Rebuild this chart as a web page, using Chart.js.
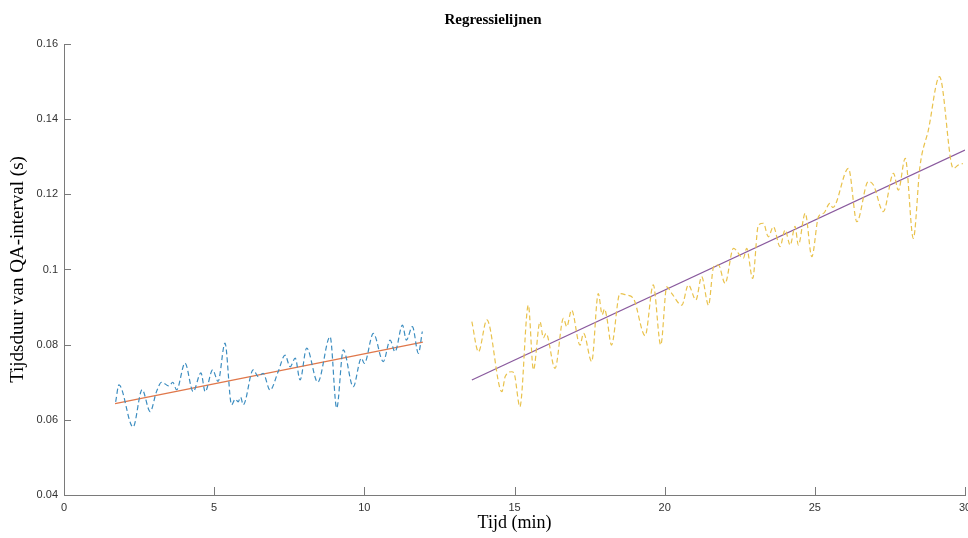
<!DOCTYPE html>
<html>
<head>
<meta charset="utf-8">
<script src="https://cdn.jsdelivr.net/npm/chart.js@4.4.0/dist/chart.umd.min.js"></script>
<style>
  html, body { margin: 0; padding: 0; background: #fff; overflow: hidden; }
  #wrap { width: 985px; height: 538px; position: relative; }
</style>
</head>
<body>
<div id="wrap"><canvas id="chart"></canvas></div>
<script>
// first segment (blue, dashed)
const blueX = [1.72, 1.83, 2.30, 2.60, 2.87, 3.08, 3.25, 3.50, 3.62, 3.75, 4.03, 4.30, 4.56, 4.70, 4.95, 5.13, 5.36, 5.58, 5.70, 5.80, 5.88, 5.97, 6.30, 6.47, 6.63, 6.86, 7.13, 7.36, 7.53, 7.70, 7.86, 8.08, 8.45, 8.86, 9.08, 9.30, 9.63, 9.90, 10.00, 10.30, 10.63, 10.86, 11.02, 11.27, 11.40, 11.60, 11.80, 11.93];
const blueY = [0.0648, 0.0693, 0.0581, 0.0680, 0.0622, 0.0675, 0.0700, 0.0690, 0.0700, 0.0680, 0.0751, 0.0675, 0.0725, 0.0675, 0.0733, 0.0702, 0.0804, 0.0640, 0.0655, 0.0648, 0.0660, 0.0640, 0.0733, 0.0715, 0.0724, 0.0679, 0.0728, 0.0772, 0.0741, 0.0764, 0.0706, 0.0791, 0.0700, 0.0821, 0.0631, 0.0786, 0.0688, 0.0764, 0.0750, 0.0830, 0.0755, 0.0812, 0.0781, 0.0852, 0.0812, 0.0848, 0.0777, 0.0835];

// second segment (yellow, dashed)
const yellowX = [13.58, 13.80, 14.08, 14.58, 14.69, 14.91, 15.00, 15.18, 15.46, 15.63, 15.85, 15.96, 16.05, 16.35, 16.63, 16.74, 16.90, 17.18, 17.30, 17.57, 17.79, 17.92, 18.00, 18.07, 18.23, 18.51, 18.73, 18.96, 19.35, 19.62, 19.87, 20.07, 20.24, 20.57, 20.79, 21.04, 21.23, 21.46, 21.63, 21.79, 22.01, 22.29, 22.62, 22.73, 22.93, 23.12, 23.29, 23.45, 23.62, 23.84, 24.01, 24.18, 24.34, 24.45, 24.68, 24.90, 25.12, 25.30, 25.50, 25.60, 26.12, 26.40, 26.78, 26.95, 27.28, 27.62, 27.78, 28.01, 28.28, 28.50, 28.78, 29.15, 29.61, 29.78, 29.93];
const yellowY = [0.0861, 0.0781, 0.0866, 0.0675, 0.0715, 0.0728, 0.0720, 0.0635, 0.0905, 0.0733, 0.0861, 0.0818, 0.0830, 0.0737, 0.0870, 0.0848, 0.0892, 0.0799, 0.0830, 0.0755, 0.0936, 0.0880, 0.0895, 0.0874, 0.0799, 0.0936, 0.0932, 0.0923, 0.0824, 0.0959, 0.0799, 0.0954, 0.0936, 0.0905, 0.0959, 0.0919, 0.0981, 0.0905, 0.1007, 0.1012, 0.0963, 0.1056, 0.1030, 0.1056, 0.0976, 0.1118, 0.1123, 0.1087, 0.1114, 0.1061, 0.1105, 0.1065, 0.1115, 0.1065, 0.1150, 0.1034, 0.1140, 0.1150, 0.1176, 0.1165, 0.1269, 0.1127, 0.1234, 0.1225, 0.1154, 0.1256, 0.1211, 0.1296, 0.1083, 0.1274, 0.1371, 0.1513, 0.1269, 0.1278, 0.1282];

// regression lines (endpoints)
const reg1X = [1.7, 11.95];
const reg1Y = [0.0643, 0.0807];
const reg2X = [13.58, 30];
const reg2Y = [0.0706, 0.1318];

const xTicks = [0, 5, 10, 15, 20, 25, 30];
const yTicks = [0.04, 0.06, 0.08, 0.1, 0.12, 0.14, 0.16];

const toPts = (xs, ys) => xs.map((x, i) => ({ x, y: ys[i] }));

const tickFont = { family: "'Liberation Sans Narrow', 'Liberation Sans', Arial, sans-serif", size: 11 };
const serif = "'Liberation Serif', 'Times New Roman', serif";

// MATLAB style: ticks point inward, title drawn by hand for exact placement
const inwardTicks = {
    id: 'inwardTicks',
    afterDraw(chart) {
        const ctx = chart.ctx;
        const xs = chart.scales.x, ys = chart.scales.y;
        const a = chart.chartArea;
        ctx.save();
        ctx.strokeStyle = '#7a7a7a';
        ctx.lineWidth = 1;
        ctx.beginPath();
        xTicks.forEach((v) => {
            const px = Math.round(xs.getPixelForValue(v)) + 0.5;
            ctx.moveTo(px, a.bottom);
            ctx.lineTo(px, a.bottom - 8);
        });
        yTicks.forEach((v) => {
            const py = Math.round(ys.getPixelForValue(v)) + 0.5;
            ctx.moveTo(a.left, py);
            ctx.lineTo(a.left + 7, py);
        });
        ctx.stroke();
        ctx.fillStyle = '#000';
        ctx.font = 'bold 15px ' + serif;
        ctx.textAlign = 'center';
        ctx.textBaseline = 'middle';
        ctx.fillText('Regressielijnen', 493, 20);
        ctx.restore();
    }
};

new Chart(document.getElementById('chart'), {
    type: 'line',
    data: {
        datasets: [
            {
                label: 'Meting 1',
                data: toPts(blueX, blueY),
                borderColor: '#3c8dc0',
                borderWidth: 1.2,
                borderDash: [5, 3],
                pointRadius: 0,
                cubicInterpolationMode: 'monotone',
                fill: false,
            },
            {
                label: 'Regressie 1',
                data: toPts(reg1X, reg1Y),
                borderColor: '#e0774a',
                borderWidth: 1.3,
                pointRadius: 0,
                fill: false,
            },
            {
                label: 'Meting 2',
                data: toPts(yellowX, yellowY),
                borderColor: '#e9c24c',
                borderWidth: 1.2,
                borderDash: [5, 3],
                pointRadius: 0,
                cubicInterpolationMode: 'monotone',
                fill: false,
            },
            {
                label: 'Regressie 2',
                data: toPts(reg2X, reg2Y),
                borderColor: '#8a5a9e',
                borderWidth: 1.3,
                pointRadius: 0,
                fill: false,
            },
        ],
    },
    options: {
        responsive: true,
        maintainAspectRatio: false,
        animation: false,
        layout: { padding: { top: 44, right: 20, left: 0, bottom: 0 } },
        plugins: {
            legend: { display: false },
            tooltip: { enabled: false },
            title: { display: false },
        },
        scales: {
            x: {
                type: 'linear',
                min: 0,
                max: 30,
                afterBuildTicks: (s) => { s.ticks = xTicks.map((v) => ({ value: v })); },
                afterFit: (s) => { s.height = 43; },
                grid: { display: false, drawTicks: false },
                border: { display: true, color: '#7a7a7a', width: 1 },
                ticks: { font: tickFont, color: '#333', padding: 6, maxRotation: 0 },
                title: { display: true, text: 'Tijd (min)', font: { family: serif, size: 18 }, color: '#000', padding: 4 },
            },
            y: {
                type: 'linear',
                min: 0.04,
                max: 0.16,
                afterBuildTicks: (s) => { s.ticks = yTicks.map((v) => ({ value: v })); },
                afterFit: (s) => { s.width = 64; },
                grid: { display: false, drawTicks: false },
                border: { display: true, color: '#7a7a7a', width: 1 },
                ticks: { font: tickFont, color: '#333', padding: 6, callback: (v) => String(Math.round(v * 100) / 100) },
                title: { display: true, text: 'Tijdsduur van QA-interval (s)', font: { family: serif, size: 19 }, color: '#000', padding: 7 },
            },
        },
    },
    plugins: [inwardTicks],
});
</script>
</body>
</html>
